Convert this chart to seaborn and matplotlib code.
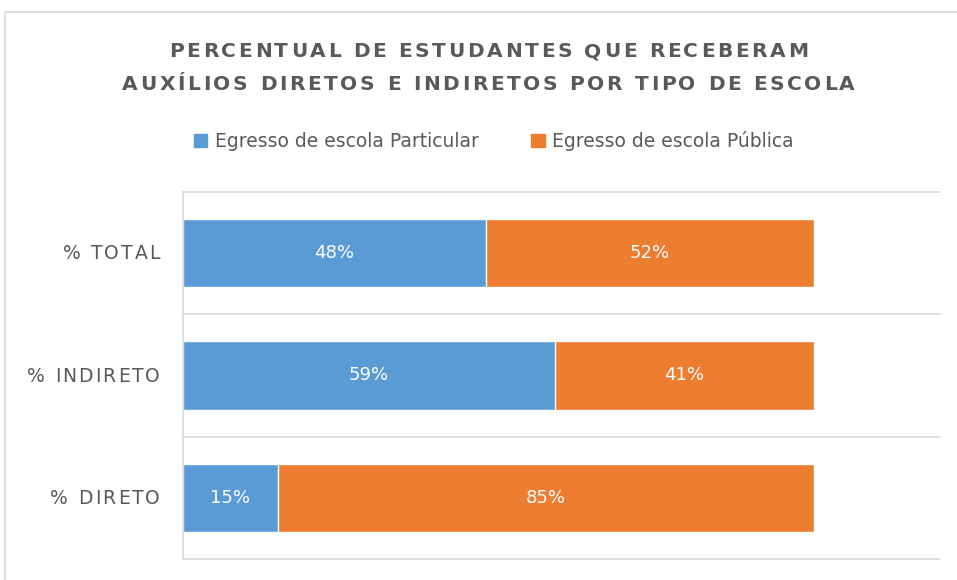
import matplotlib.pyplot as plt
import matplotlib.patches as mpatches
from matplotlib.font_manager import FontProperties, findfont, get_font
import pandas as pd
import seaborn as sns

categorias = ['% TOTAL', '% INDIRETO', '% DIRETO']
particular = [48, 59, 15]
publica = [52, 41, 85]
series = ['Egresso de escola Particular', 'Egresso de escola Pública']
titulo = ['PERCENTUAL DE ESTUDANTES QUE RECEBERAM',
          'AUXÍLIOS DIRETOS E INDIRETOS POR TIPO DE ESCOLA']

azul = '#5B9BD5'
laranja = '#ED7D31'
cinza = '#595959'
grade = '#D9D9D9'

W, H, DPI = 957, 580, 100

df = pd.DataFrame({'categoria': categorias, 'particular': particular, 'publica': publica})
df['total'] = df['particular'] + df['publica']

sns.set_style('white')
plt.rcParams['font.family'] = ['DejaVu Sans']


def texto_espacado(fig, s, x, y, espaco, ha='center', size=12, weight='normal', color=cinza):
    # x, y in display pixels (origin bottom-left); draws letter-spaced text on a baseline
    props = FontProperties(family='DejaVu Sans', size=size, weight=weight)
    font = get_font(findfont(props))
    font.set_size(size, DPI)
    adv = [font.load_char(ord(c)).linearHoriAdvance / 65536 for c in s]
    largura = sum(adv) + espaco * (len(s) - 1)
    x0 = x - largura / 2 if ha == 'center' else (x - largura if ha == 'right' else x)
    for c, a in zip(s, adv):
        if c != ' ':
            fig.text(x0 / W, y / H, c, ha='left', va='baseline', fontproperties=props,
                     color=color)
        x0 += a + espaco


fig = plt.figure(figsize=(W / DPI, H / DPI), dpi=DPI)
ax = fig.add_axes([183 / W, 21 / H, 757 / W, 367 / H])

# stacked: orange full bar behind, blue on top
sns.barplot(data=df, y='categoria', x='total', color=laranja, width=0.56,
            saturation=1, orient='h', ax=ax)
sns.barplot(data=df, y='categoria', x='particular', color=azul, width=0.56,
            saturation=1, orient='h', ax=ax)

for i, row in df.iterrows():
    ax.text(row['particular'] / 2, i, f"{row['particular']}%", ha='center', va='center',
            color='white', fontsize=13)
    ax.text(row['particular'] + row['publica'] / 2, i, f"{row['publica']}%", ha='center',
            va='center', color='white', fontsize=13)

ax.set_xlim(0, 120)
ax.set_ylim(len(categorias) - 0.5, -0.5)
for b in range(len(categorias) + 1):
    ax.axhline(b - 0.5, color=grade, lw=1.2, zorder=0, clip_on=False)
ax.set_xlabel('')
ax.set_ylabel('')
ax.set_xticks([])
ax.set_yticks(range(len(categorias)))
ax.set_yticklabels([])
ax.tick_params(axis='y', length=0)
for s in ['top', 'right', 'bottom']:
    ax.spines[s].set_visible(False)
ax.spines['left'].set_color(grade)
ax.spines['left'].set_linewidth(1.2)

# letter-spaced category labels
for i, cat in enumerate(categorias):
    _, yd = ax.transData.transform((0, i))
    texto_espacado(fig, cat, 160, yd - 6, 2.1, ha='right', size=13.5)

handles = [mpatches.Patch(color=azul), mpatches.Patch(color=laranja)]
fig.legend(handles, series, loc='center', bbox_to_anchor=(494 / W, 1 - 141 / H),
           ncol=2, frameon=False, fontsize=13.5, labelcolor=cinza,
           handlelength=0.7, handleheight=0.7, handletextpad=0.4, columnspacing=2.8)

for k, linha in enumerate(titulo):
    texto_espacado(fig, linha, 488.5, H - (57 + 33 * k), 2.65, size=14.5, weight='bold')

fig.patches.append(mpatches.Rectangle((5 / W, -0.05), 1.1, 1 - 12 / H + 0.05,
                                      transform=fig.transFigure, fill=False,
                                      edgecolor=grade, lw=1.2))

fig.savefig('out.png', dpi=DPI)
